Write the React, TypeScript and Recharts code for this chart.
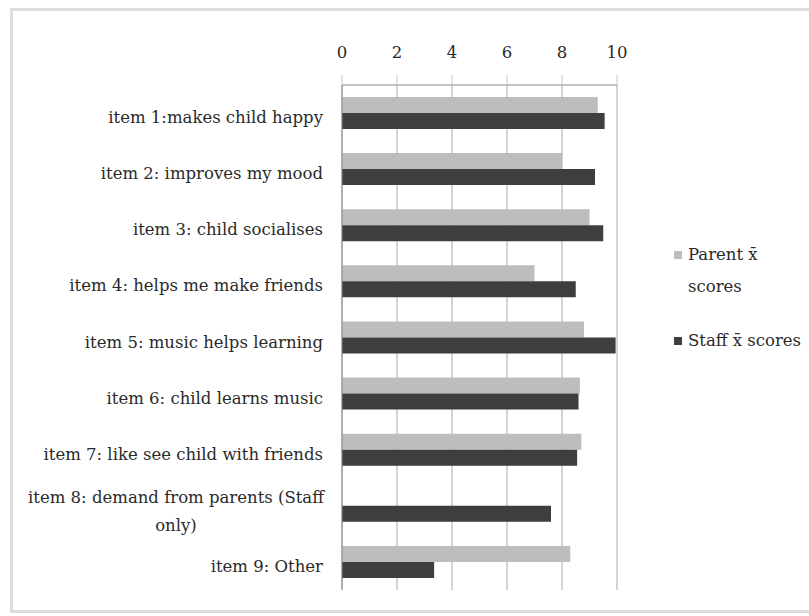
import React from "react";
import { BarChart, Bar, XAxis, YAxis, CartesianGrid } from "recharts";

// Mean agreement scores per questionnaire item, parents vs staff
const categories = [
  "item 1:makes child happy",
  "item 2: improves my mood",
  "item 3: child socialises",
  "item 4: helps me make friends",
  "item 5: music helps learning",
  "item 6: child learns music",
  "item 7: like see child with friends",
  "item 8: demand from parents (Staff\nonly)",
  "item 9: Other",
];
const parentScores: (number | null)[] = [9.3, 8.0, 9.0, 7.0, 8.8, 8.65, 8.7, null, 8.3];
const staffScores: number[] = [9.55, 9.2, 9.5, 8.5, 9.95, 8.6, 8.55, 7.6, 3.35];
const xTicks = [0, 2, 4, 6, 8, 10];
const legendLabels = ["Parent x\u0304\nscores", "Staff x\u0304 scores"];

const data = categories.map((name, i) => ({
  name,
  parent: parentScores[i],
  staff: staffScores[i],
}));

const FONT = "'DejaVu Serif', 'Liberation Serif', serif";
const TEXT = "#2a2a2a";
const PARENT_FILL = "#bdbdbd";
const STAFF_FILL = "#3e3e3e";

const CategoryTick = (props: any) => {
  const { x, y, payload } = props;
  const lines: string[] = String(payload.value).split("\n");
  if (lines.length === 1) {
    return (
      <text x={x} y={y} dy={10} textAnchor="end" fill={TEXT} fontFamily={FONT} fontSize={16.5}>
        {lines[0]}
      </text>
    );
  }
  return (
    <text x={x - 147} y={y} textAnchor="middle" fill={TEXT} fontFamily={FONT} fontSize={16.5}>
      {lines.map((l, i) => (
        <tspan key={i} x={x - 147} dy={i === 0 ? -3 : 28}>
          {l}
        </tspan>
      ))}
    </text>
  );
};

const LegendBox = () => (
  <div
    style={{
      position: "absolute",
      left: 674,
      top: 239,
      fontFamily: FONT,
      fontSize: 16.5,
      color: TEXT,
      lineHeight: "32px",
    }}
  >
    {[PARENT_FILL, STAFF_FILL].map((c, i) => {
      const lines = legendLabels[i].split("\n");
      return (
        <div key={i} style={{ display: "flex", alignItems: "flex-start", marginBottom: i === 0 ? 22 : 0 }}>
          <span
            style={{
              width: 8,
              height: 8,
              background: c,
              marginTop: 12,
              marginRight: 6,
              flex: "none",
            }}
          />
          <span>
            {lines.map((l, j) => (
              <div key={j}>{l}</div>
            ))}
          </span>
        </div>
      );
    })}
  </div>
);

export default function App() {
  return (
    <div style={{ position: "absolute", left: 0, top: 0, width: 809, height: 616, background: "#fff", overflow: "hidden" }}>
      <div
        style={{
          position: "absolute",
          left: 10,
          top: 8,
          width: 820,
          height: 605,
          border: "3px solid #dcdcdc",
          boxSizing: "border-box",
        }}
      />
      <BarChart
        width={809}
        height={616}
        data={data}
        layout="vertical"
        margin={{ top: 30, right: 192, bottom: 26, left: 0 }}
        barCategoryGap={12}
        barGap={0}
      >
        <CartesianGrid horizontal={false} stroke="#a8a8a8" strokeWidth={1} />
        <XAxis
          type="number"
          orientation="top"
          domain={[0, 10]}
          ticks={xTicks}
          height={55}
          axisLine={{ stroke: "#8a8a8a" }}
          tickLine={{ stroke: "#c8c8c8" }}
          tickSize={10}
          tickMargin={17}
          tick={{ fill: TEXT, fontFamily: FONT, fontSize: 16.5 }}
        />
        <YAxis
          type="category"
          dataKey="name"
          width={342}
          axisLine={{ stroke: "#8a8a8a" }}
          tickLine={false}
          tickSize={0}
          tickMargin={19}
          interval={0}
          tick={<CategoryTick />}
        />
        <Bar dataKey="parent" fill={PARENT_FILL} isAnimationActive={false} />
        <Bar dataKey="staff" fill={STAFF_FILL} isAnimationActive={false} />
      </BarChart>
      <LegendBox />
    </div>
  );
}
